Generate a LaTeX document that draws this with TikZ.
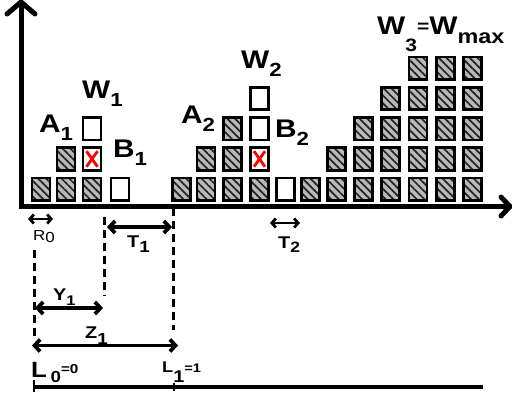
\documentclass[tikz,border=0pt]{standalone}
\usepackage{fontspec}
\setmainfont{Liberation Sans}[FakeStretch=1.17]
\usetikzlibrary{patterns.meta,arrows.meta,calc}
\definecolor{hatchgray}{RGB}{185,185,185}
\definecolor{hatchdark}{RGB}{35,35,35}
% lowered index: shift, size, text
\newcommand{\lowidx}[3]{\raisebox{#1}{\fontsize{#2}{#2}\selectfont #3}}

\begin{document}
\begin{tikzpicture}[x=1pt,y=-1pt,
  cell/.style={draw=black,line width=2.6pt,minimum width=18pt,minimum height=22.5pt,inner sep=0pt,outer sep=0pt},
  hatched/.style={cell,preaction={fill=hatchgray},pattern={Lines[angle=-45,distance=5.5pt,line width=1.7pt]},pattern color=hatchdark},
  empty/.style={cell,fill=white},
  xmark/.style={draw=red,line width=2.8pt},
  axis/.style={line width=5pt,line join=miter},
  tip/.style={line width=5pt,line cap=round,line join=round},
  dim/.style={line width=3.8pt,{Straight Barb[length=5.5pt,width=12pt]}-{Straight Barb[length=5.5pt,width=12pt]}},
  smalldim/.style={line width=2.8pt,{Straight Barb[length=4pt,width=9pt]}-{Straight Barb[length=4pt,width=9pt]}},
  guide/.style={line width=3pt,dash pattern=on 8pt off 5pt},
  rule/.style={line width=3.8pt},
  biglabel/.style={anchor=base west,inner sep=0pt,font=\fontsize{25.5}{25.5}\selectfont\bfseries},
  midlabel/.style={anchor=base west,inner sep=0pt,font=\fontsize{17}{17}\selectfont\bfseries},
]
\useasboundingbox (0,0) rectangle (512,397);

% axes
\coordinate (top) at (21,2);
\coordinate (origin) at (21,206.5);
\coordinate (right) at (510,206.5);
\draw[axis] (top) -- (origin) -- (right);
\draw[tip] (7,14) -- (top) -- (35,14);
\draw[tip] (501,197) -- (right) -- (501,216);

% stacks of hatched cells
\foreach \name/\x/\n in {p/41/1, q/66/2, r/92/1, s/181.5/1, t/206/2, u/232.5/3, v/259.5/1,
    w/310.5/1, xa/336.5/2, xb/363.5/3, xc/390.5/4, xd/418/5, xe/445.5/5, xf/472.5/5}
  \foreach \r in {1,...,\n}
    \node[hatched] (\name\r) at (\x,{189.2-30.25*(\r-1)}) {};

% empty cells
\node[empty] (r2) at (92,158.95) {};
\node[empty] (r3) at (92,128.7) {};
\node[empty] (g1b) at (120,189.2) {};
\node[empty] (v2) at (259.5,158.95) {};
\node[empty] (v3) at (259.5,128.7) {};
\node[empty] (v4) at (259.5,98.45) {};
\node[empty] (g2b) at (285.5,189.2) {};

% crossed cells
\foreach \c in {r2,v2}{
  \draw[xmark] ($(\c.north west)+(3.5,3.5)$) -- ($(\c.south east)+(-3.5,-3.5)$);
  \draw[xmark] ($(\c.north east)+(-3.5,3.5)$) -- ($(\c.south west)+(3.5,-3.5)$);
}

% labels above the stacks
\node[biglabel] (A1) at (39,132) {A\lowidx{-8pt}{19}{1}};
\node[biglabel] (W1) at (82,98) {W\lowidx{-8pt}{19}{1}};
\node[biglabel] (B1) at (113,157) {B\lowidx{-8pt}{19}{1}};
\node[biglabel] (A2) at (181,123) {A\lowidx{-8pt}{19}{2}};
\node[biglabel] (W2) at (241,68) {W\lowidx{-8pt}{19}{2}};
\node[biglabel] (B2) at (275,137) {B\lowidx{-8pt}{19}{2}};
\node[biglabel] (W3) at (377,34)
  {W\lowidx{-17pt}{18}{3}\lowidx{2pt}{18}{=}W\lowidx{-9pt}{20}{max}};

% guide lines
\coordinate (g0a) at (34,250);  \coordinate (g0b) at (34,340);
\coordinate (g1a) at (104,217); \coordinate (g1b') at (104,296);
\coordinate (g2a) at (173,208); \coordinate (g2b') at (173,330);
\draw[guide] (g0a) -- (g0b);
\draw[guide] (g1a) -- (g1b');
\draw[guide] (g2a) -- (g2b');

% dimension arrows
\coordinate (r0a) at (28,219);  \coordinate (r0b) at (53,219);
\coordinate (t1a) at (107,227); \coordinate (t1b) at (172,227);
\coordinate (t2a) at (270,223); \coordinate (t2b) at (300,223);
\coordinate (y1a) at (35,308);  \coordinate (y1b) at (103,308);
\coordinate (z1a) at (32,345.5);\coordinate (z1b) at (178,345.5);
\draw[smalldim] (r0a) -- (r0b);
\draw[dim] (t1a) -- (t1b);
\draw[smalldim] (t2a) -- (t2b);
\draw[dim] (y1a) -- (y1b);
\draw[dim] (z1a) -- (z1b);

\node[anchor=base west,inner sep=0pt,font=\fontsize{14.5}{14.5}\selectfont] (R0) at (33,240) {R\lowidx{-2pt}{14.5}{0}};
\node[midlabel] (T1) at (127,247) {T\lowidx{-5pt}{16}{1}};
\node[midlabel] (T2) at (278,248) {T\lowidx{-4pt}{15}{2}};
\node[midlabel] (Y1) at (53,300) {Y\lowidx{-5pt}{14}{1}};
\node[midlabel] (Z1) at (85,338) {Z\lowidx{-6pt}{16}{1}};

% scale line
\node[anchor=base west,inner sep=0pt,font=\fontsize{22}{22}\selectfont\bfseries] (L0) at (31,377)
  {L\,\lowidx{-5pt}{16}{0}\lowidx{4pt}{13}{=0}};
\node[anchor=base west,inner sep=0pt,font=\fontsize{15.5}{15.5}\selectfont\bfseries] (L1) at (162,372)
  {L\lowidx{-10pt}{17}{1}\lowidx{0pt}{12.5}{=1}};
\coordinate (s0) at (34,387); \coordinate (s1) at (483,387);
\draw[rule] (s0) -- (s1);
\draw[line width=2.5pt] (34,380) -- (34,392);
\draw[line width=2.5pt] (174,383) -- (174,391);
\end{tikzpicture}
\end{document}
